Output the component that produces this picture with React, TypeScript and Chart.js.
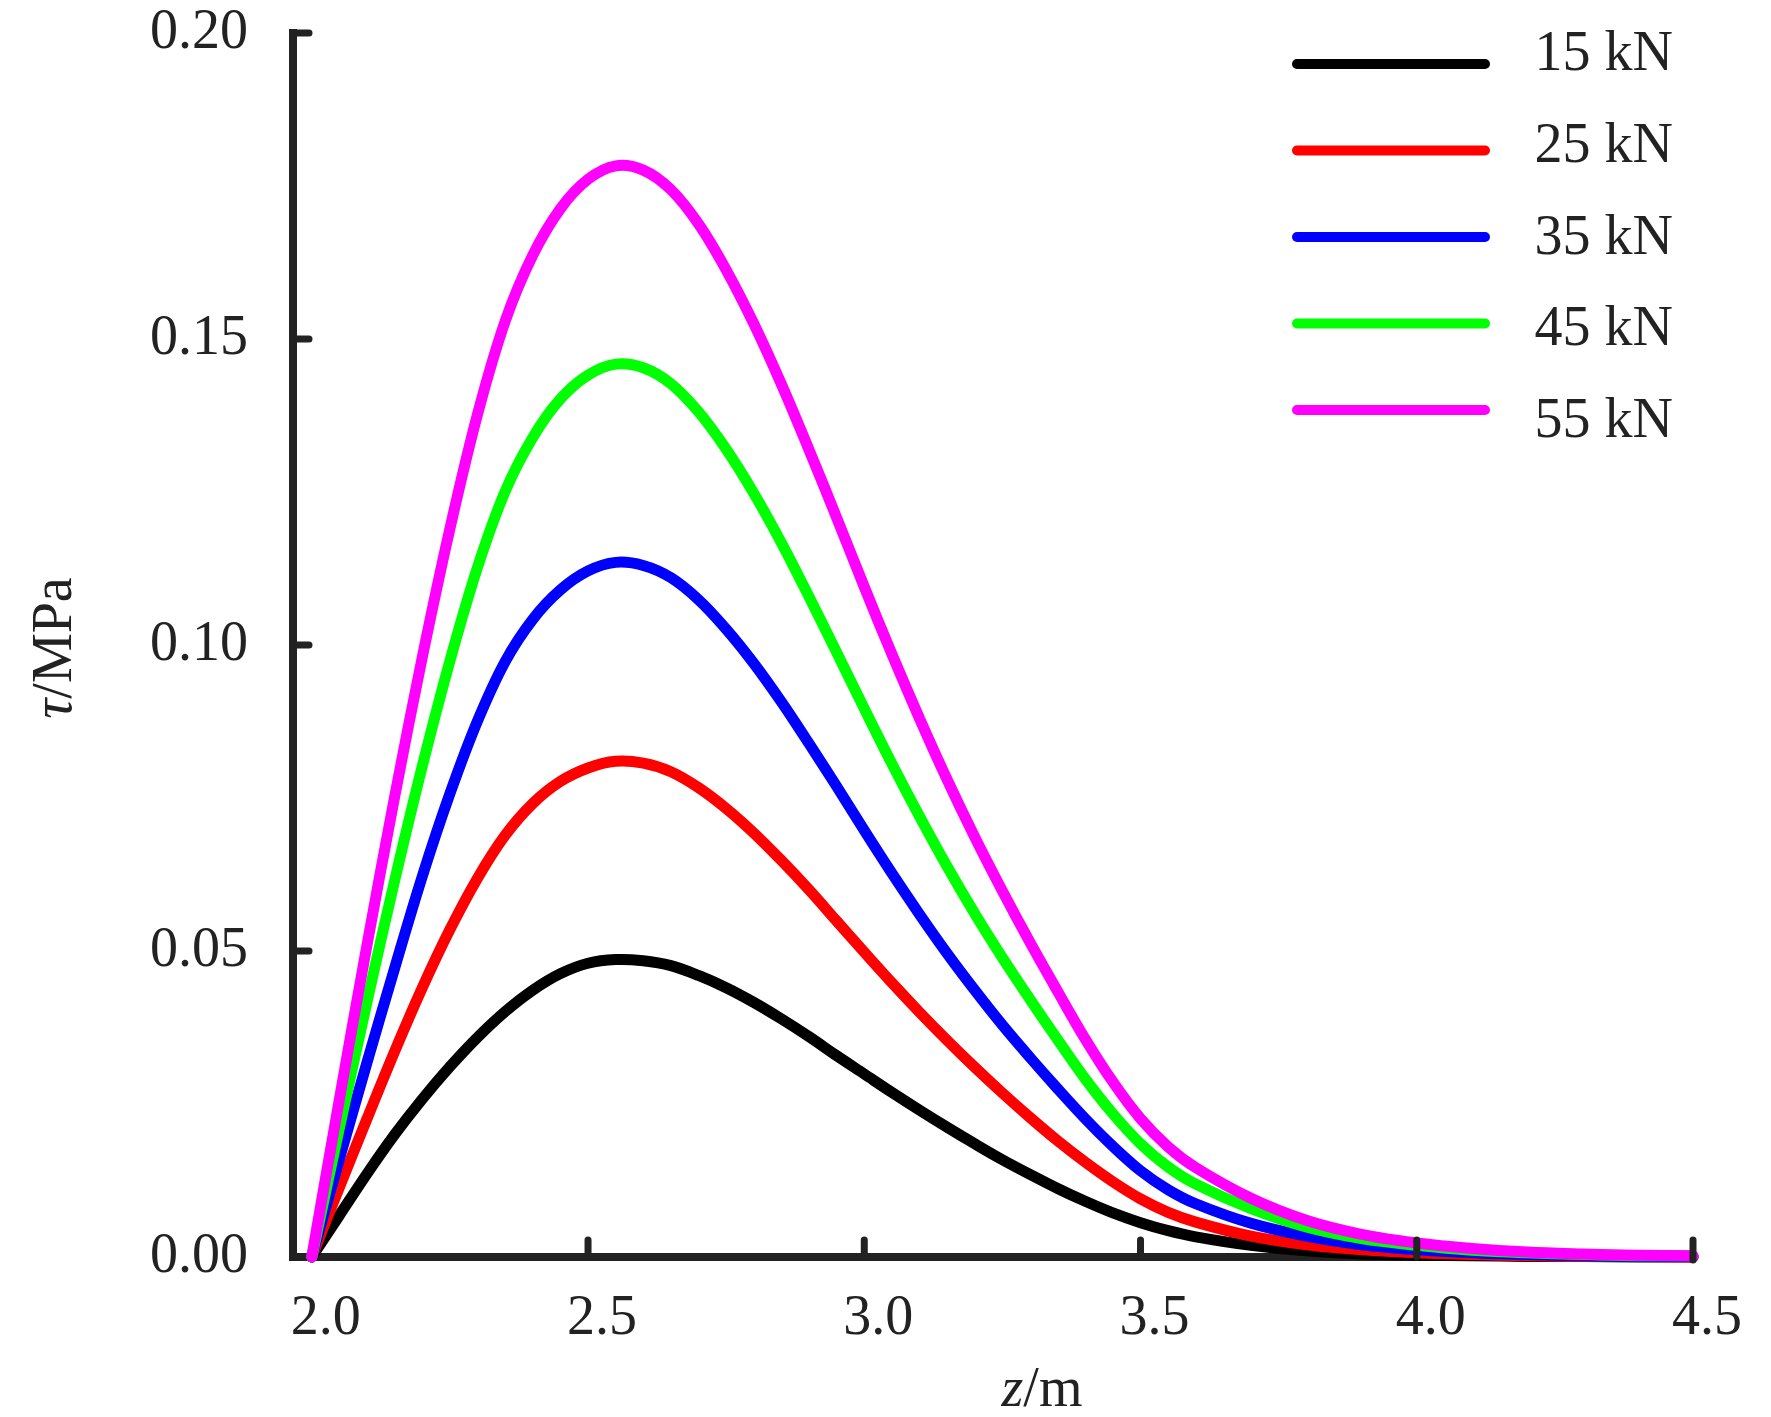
import React, { useEffect, useRef } from "react";
import { Chart, registerables } from "chart.js";

Chart.register(...registerables);

// ---- data ----
const zValues = [
  2.0, 2.05, 2.1, 2.15, 2.2, 2.25, 2.3, 2.35, 2.4, 2.45, 2.5, 2.55, 2.6, 2.65, 2.7,
  2.75, 2.8, 2.85, 2.9, 2.95, 3.0, 3.05, 3.1, 3.15, 3.2, 3.25, 3.3, 3.35, 3.4, 3.45,
  3.5, 3.55, 3.6, 3.7, 3.8, 3.9, 4.0, 4.1, 4.2, 4.3, 4.4, 4.5,
];

const tau15 = [
  0, 0.0068, 0.0136, 0.02, 0.0258, 0.0311, 0.0359, 0.0401, 0.0436, 0.0463, 0.048,
  0.0486, 0.0484, 0.0476, 0.046, 0.044, 0.0416, 0.0389, 0.036, 0.0329, 0.0299,
  0.0269, 0.024, 0.0212, 0.0185, 0.0159, 0.0135, 0.0112, 0.0091, 0.0072, 0.0056,
  0.0043, 0.0033, 0.0019, 0.001, 0.0005, 0.0003, 0.0002, 0.0001, 0.0001, 0, 0,
];

const tau25 = [
  0, 0.0114, 0.0226, 0.0336, 0.044, 0.0535, 0.0619, 0.0689, 0.0741, 0.0777, 0.0799,
  0.081, 0.0807, 0.0793, 0.0767, 0.0733, 0.0693, 0.0648, 0.06, 0.0549, 0.0498,
  0.0448, 0.04, 0.0354, 0.031, 0.0268, 0.0228, 0.019, 0.0155, 0.0123, 0.0095,
  0.0073, 0.0057, 0.0034, 0.002, 0.0012, 0.0007, 0.0004, 0.0002, 0.0001, 0.0001, 0,
];

const tau35 = [
  0, 0.016, 0.0318, 0.0472, 0.0622, 0.0757, 0.0876, 0.0973, 0.1042, 0.109, 0.1121,
  0.1135, 0.113, 0.111, 0.1074, 0.1026, 0.097, 0.0907, 0.0839, 0.0769, 0.0697,
  0.0627, 0.056, 0.0496, 0.0436, 0.0379, 0.0326, 0.0275, 0.0226, 0.0181, 0.0141,
  0.011, 0.0087, 0.0055, 0.0034, 0.002, 0.0012, 0.0007, 0.0004, 0.0002, 0.0001, 0.0001,
];

const tau45 = [
  0, 0.0211, 0.0417, 0.0615, 0.0802, 0.0974, 0.1127, 0.1251, 0.1339, 0.1402, 0.1441,
  0.1459, 0.1453, 0.1427, 0.1381, 0.132, 0.1248, 0.1167, 0.1079, 0.0988, 0.0896,
  0.0806, 0.072, 0.0638, 0.0561, 0.0489, 0.0421, 0.0355, 0.0291, 0.0234, 0.0185,
  0.0147, 0.0119, 0.0079, 0.0049, 0.003, 0.0019, 0.0011, 0.0007, 0.0004, 0.0002, 0.0002,
];

const tau55 = [
  0, 0.0258, 0.051, 0.0752, 0.098, 0.119, 0.1377, 0.1529, 0.1637, 0.1713, 0.1761,
  0.1783, 0.1776, 0.1744, 0.1688, 0.1613, 0.1525, 0.1426, 0.1319, 0.1208, 0.1095,
  0.0985, 0.088, 0.078, 0.0686, 0.0598, 0.0514, 0.0434, 0.0356, 0.0286, 0.0226,
  0.018, 0.0146, 0.0096, 0.006, 0.0037, 0.0023, 0.0014, 0.0008, 0.0005, 0.0003, 0.0002,
];

const seriesLabels = ["15 kN", "25 kN", "35 kN", "45 kN", "55 kN"];
const seriesColors = ["#000000", "#ff0000", "#0000ff", "#00ff00", "#ff00ff"];

const xTickValues = [2.0, 2.5, 3.0, 3.5, 4.0, 4.5];
const yTickValues = [0, 0.05, 0.1, 0.15, 0.2];
const xTickMarks = [2.5, 3.0, 3.5, 4.0, 4.5];
const yTickMarks = [0.05, 0.1, 0.15, 0.2];

const xTitleVar = "z";
const xTitleUnit = "/m";
const yTitleVar = "τ";
const yTitleUnit = "/MPa";

// ---- styling ----
const AXIS_COLOR = "#222222";
const FONT = "'Liberation Serif', 'Times New Roman', serif";
const FONT_SIZE = 56;

function drawMixed(
  ctx: CanvasRenderingContext2D,
  parts: [string, string][],
  cx: number,
  baseline: number
) {
  let total = 0;
  const widths: number[] = [];
  parts.forEach(([t, st]) => {
    ctx.font = `${st} ${FONT_SIZE}px ${FONT}`;
    const w = ctx.measureText(t).width;
    widths.push(w);
    total += w;
  });
  let x = cx - total / 2;
  parts.forEach(([t, st], i) => {
    ctx.font = `${st} ${FONT_SIZE}px ${FONT}`;
    ctx.fillText(t, x, baseline);
    x += widths[i];
  });
}

const decorPlugin = {
  id: "decor",
  afterDatasetsDraw(chart: any) {
    const ctx: CanvasRenderingContext2D = chart.ctx;
    const xs = chart.scales.x;
    const ys = chart.scales.y;
    const y0 = ys.getPixelForValue(0);
    const x0 = xs.left;
    ctx.save();

    // inward tick marks
    ctx.strokeStyle = AXIS_COLOR;
    ctx.lineWidth = 7;
    ctx.lineCap = "round";
    xTickMarks.forEach((v, i) => {
      const px = xs.getPixelForValue(v);
      ctx.beginPath();
      ctx.moveTo(px, i === xTickMarks.length - 1 ? y0 + 3 : y0);
      ctx.lineTo(px, y0 - 17);
      ctx.stroke();
    });
    yTickMarks.forEach((v) => {
      const py = ys.getPixelForValue(v);
      ctx.beginPath();
      ctx.moveTo(x0, py);
      ctx.lineTo(x0 + 16, py);
      ctx.stroke();
    });

    // legend (drawn from the datasets)
    ctx.lineWidth = 10;
    ctx.lineCap = "round";
    ctx.textAlign = "right";
    ctx.textBaseline = "alphabetic";
    ctx.font = `${FONT_SIZE}px ${FONT}`;
    chart.data.datasets.forEach((ds: any, i: number) => {
      const ly = 64 + i * 86.5;
      ctx.strokeStyle = ds.borderColor;
      ctx.beginPath();
      ctx.moveTo(1297, ly);
      ctx.lineTo(1485, ly);
      ctx.stroke();
      ctx.fillStyle = AXIS_COLOR;
      ctx.fillText(ds.label, 1673, 70 + i * 91.75);
    });

    // axis titles
    ctx.fillStyle = AXIS_COLOR;
    ctx.textAlign = "left";
    ctx.textBaseline = "alphabetic";
    drawMixed(ctx, [[xTitleVar, "italic"], [xTitleUnit, "normal"]], 1042, 1406);

    ctx.save();
    ctx.translate(71, 648);
    ctx.rotate(-Math.PI / 2);
    drawMixed(ctx, [[yTitleVar, "italic"], [yTitleUnit, "normal"]], 0, 0);
    ctx.restore();

    ctx.restore();
  },
};

export default function App() {
  const ref = useRef<HTMLCanvasElement>(null);

  useEffect(() => {
    document.body.style.margin = "0";
    const canvas = ref.current;
    if (!canvas) return;
    const series = [tau15, tau25, tau35, tau45, tau55];

    const gridOpts = {
      display: true,
      drawOnChartArea: false,
      drawTicks: false,
      color: "rgba(0,0,0,0)",
      lineWidth: 1,
    };
    const borderOpts = { display: true, color: AXIS_COLOR, width: 8 };
    const tickFont = { family: FONT, size: FONT_SIZE };

    const chart = new Chart(canvas, {
      type: "line",
      data: {
        datasets: series.map((vals, i) => ({
          label: seriesLabels[i],
          data: zValues.map((z, j) => ({ x: z, y: vals[j] })),
          borderColor: seriesColors[i],
          backgroundColor: seriesColors[i],
          borderWidth: 11,
          pointRadius: 0,
          pointHoverRadius: 0,
          fill: false,
          tension: 0.35,
          borderCapStyle: "round",
          borderJoinStyle: "round",
          order: series.length - i,
          clip: false,
        })),
      } as any,
      options: {
        responsive: false,
        animation: false,
        devicePixelRatio: 1,
        events: [],
        layout: { padding: { left: 53, right: 78, top: 33, bottom: 0 } },
        plugins: {
          legend: { display: false },
          tooltip: { enabled: false },
          title: { display: false },
        },
        scales: {
          x: {
            type: "linear",
            min: 1.966,
            max: 4.5,
            afterFit: (s: any) => {
              s.height = 160;
              s.paddingLeft = 0;
              s.paddingRight = 0;
            },
            afterBuildTicks: (s: any) => {
              s.ticks = xTickValues.map((v) => ({ value: v }));
            },
            grid: gridOpts,
            border: borderOpts,
            ticks: {
              padding: 29,
              labelOffset: 14,
              autoSkip: false,
              maxRotation: 0,
              minRotation: 0,
              color: AXIS_COLOR,
              font: tickFont,
              callback: (v: any) => Number(v).toFixed(1),
            },
          },
          y: {
            type: "linear",
            min: 0,
            max: 0.2,
            afterFit: (s: any) => {
              s.width = 240;
              s.paddingTop = 0;
              s.paddingBottom = 0;
            },
            afterBuildTicks: (s: any) => {
              s.ticks = yTickValues.map((v) => ({ value: v }));
            },
            grid: gridOpts,
            border: borderOpts,
            ticks: {
              padding: 45,
              autoSkip: false,
              color: AXIS_COLOR,
              font: tickFont,
              callback: (v: any) => Number(v).toFixed(2),
            },
          },
        },
      } as any,
      plugins: [decorPlugin],
    });

    return () => chart.destroy();
  }, []);

  return (
    <div style={{ width: 1771, height: 1417, background: "#ffffff" }}>
      <canvas
        ref={ref}
        width={1771}
        height={1417}
        style={{ display: "block", width: 1771, height: 1417 }}
      />
    </div>
  );
}
